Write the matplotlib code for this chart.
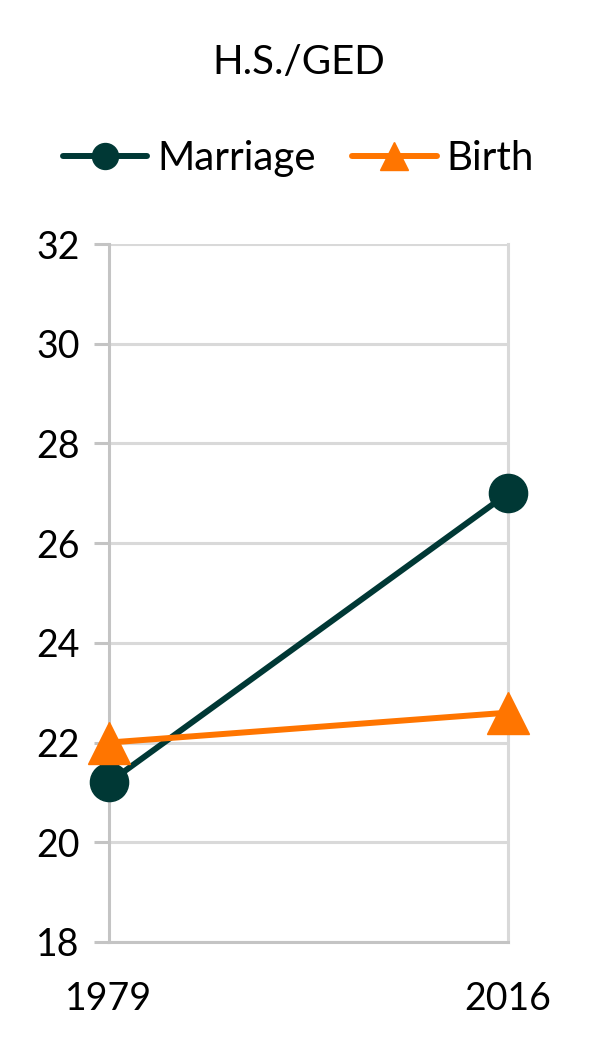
import matplotlib
matplotlib.use("Agg")
import matplotlib.pyplot as plt

years = ["1979", "2016"]
marriage = [21.2, 27.0]
birth = [22.0, 22.6]
yticks = [18, 20, 22, 24, 26, 28, 30, 32]

plt.rcParams['font.family'] = ['Lato', 'DejaVu Sans']

fig = plt.figure(figsize=(5.97, 10.5), dpi=100)
ax = fig.add_axes([0.1826, 0.1029, 0.6684, 0.6647])

x = range(len(years))
ax.plot(x, marriage, color="#003835", lw=4.3, marker="o", ms=27.5,
        label="Marriage", solid_capstyle="round", zorder=3, clip_on=False)
ax.plot(x, birth, color="#FF7500", lw=4.3, marker="^", ms=30,
        label="Birth", solid_capstyle="round", zorder=3, clip_on=False)

ax.set_xlim(0, 1)
ax.set_ylim(18, 32)
ax.set_yticks(yticks)
ax.set_xticks(list(x))
ax.set_xticklabels(years)
ax.tick_params(axis="y", labelsize=27, length=11, width=2.2, color="#c4c4c4", pad=10)
ax.tick_params(axis="x", labelsize=27, length=0, pad=28)
ax.yaxis.grid(True, color="#d9d9d9", lw=2.2)
ax.set_axisbelow(True)

for side in ["left", "bottom"]:
    ax.spines[side].set_color("#c4c4c4")
    ax.spines[side].set_linewidth(2.2)
ax.spines["right"].set_color("#d9d9d9")
ax.spines["right"].set_linewidth(2.2)
ax.spines["top"].set_visible(False)

fig.text(0.5, 0.94, "H.S./GED", ha="center", va="center", fontsize=29)
leg = fig.legend(loc="center", bbox_to_anchor=(0.5, 0.849), ncol=2, frameon=False,
                 fontsize=29, handlelength=2.1, handletextpad=0.25, columnspacing=0.9,
                 markerscale=0.68)

fig.savefig("out.png", dpi=100)
